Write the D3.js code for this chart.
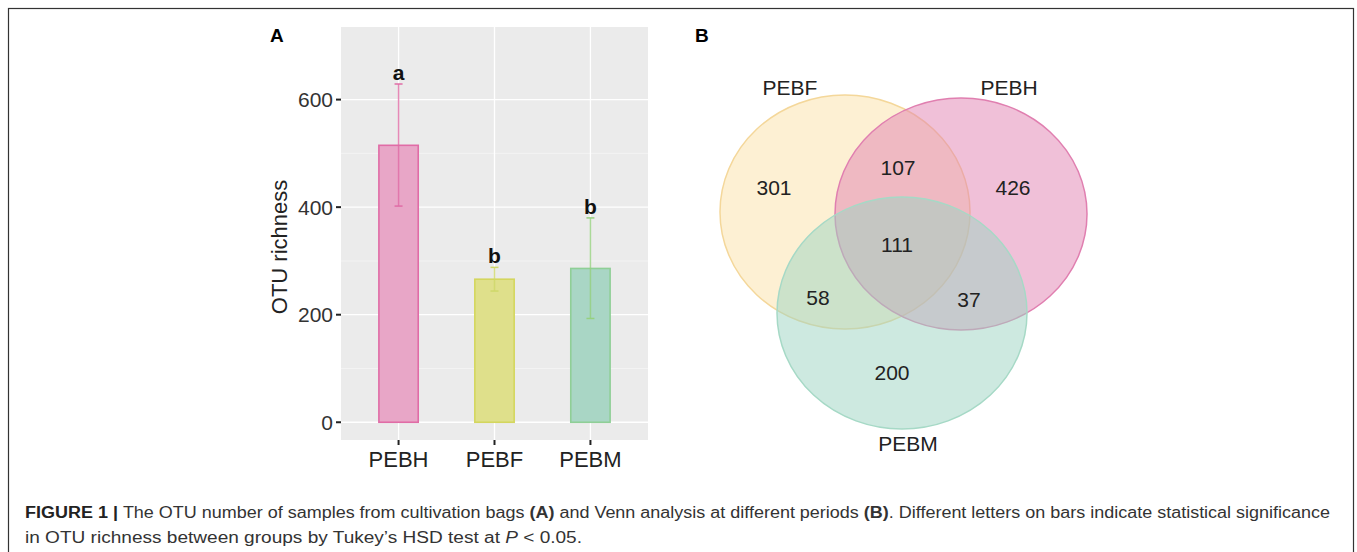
<!DOCTYPE html>
<html>
<head>
<meta charset="utf-8">
<script src="https://cdn.jsdelivr.net/npm/d3@7"></script>
<style>
  body { margin: 0; background: #fff; }
  svg text { font-family: "Liberation Sans", Arial, sans-serif; }
</style>
</head>
<body>
<svg id="fig"></svg>
<script>
// ---- data ----
const groups = ["PEBH", "PEBF", "PEBM"];
const richness = [515, 266, 286];
const errHigh = [629, 288, 380];
const errLow = [402, 244, 193];
const sigLetters = ["a", "b", "b"];
const yTicks = [0, 200, 400, 600];

const vennSets = ["PEBF", "PEBH", "PEBM"];
const vennRegions = ["F", "H", "M", "FH", "FM", "HM", "FHM"];
const vennCounts = [301, 426, 200, 107, 58, 37, 111];

// ---- styles ----
const barFill = {PEBH: "#e8a6c7", PEBF: "#dfe08b", PEBM: "#a9d6c5"};
const barStroke = {PEBH: "#e06ca6", PEBF: "#d4d65e", PEBM: "#8fcf96"};
const errColor = {PEBH: "#e06ca6", PEBF: "#cfd86a", PEBM: "#96d07f"};
const vennFill = {PEBF: "#fbe1a7", PEBH: "#e181b1", PEBM: "#9bd3c1"};
const vennStroke = {PEBF: "#f4d79a", PEBH: "#e07fb0", PEBM: "#a6d9c6"};

const W = 1357, H = 552;
const svg = d3.select("#fig").attr("width", W).attr("height", H);

// frame
svg.append("rect")
    .attr("x", 8.5).attr("y", 8.5)
    .attr("width", 1345).attr("height", 600)
    .attr("fill", "none").attr("stroke", "#333").attr("stroke-width", 1.2);

// ================= Panel A =================
const panel = {left: 341, right: 648, top: 27, bottom: 440};

const x = d3.scalePoint()
    .domain(groups)
    .range([panel.left, panel.right])
    .padding(0.6);

const y = d3.scaleLinear()
    .domain([-33, 735])
    .range([panel.bottom, panel.top]);

const barW = x.step() * 0.41;

const gA = svg.append("g");

gA.append("rect")
    .attr("x", panel.left).attr("y", panel.top)
    .attr("width", panel.right - panel.left)
    .attr("height", panel.bottom - panel.top)
    .attr("fill", "#ebebeb");

// minor gridlines
[100, 300, 500].forEach(v => {
    gA.append("line")
        .attr("x1", panel.left).attr("x2", panel.right)
        .attr("y1", y(v)).attr("y2", y(v))
        .attr("stroke", "#f5f5f5").attr("stroke-width", 0.8);
});
// major gridlines
yTicks.forEach(v => {
    gA.append("line")
        .attr("x1", panel.left).attr("x2", panel.right)
        .attr("y1", y(v)).attr("y2", y(v))
        .attr("stroke", "#fff").attr("stroke-width", 1.3);
});
groups.forEach(g => {
    gA.append("line")
        .attr("x1", x(g)).attr("x2", x(g))
        .attr("y1", panel.top).attr("y2", panel.bottom)
        .attr("stroke", "#fff").attr("stroke-width", 1.3);
});

// bars
gA.selectAll(".bar")
    .data(groups)
    .join("rect")
    .attr("class", "bar")
    .attr("x", d => x(d) - barW / 2)
    .attr("width", barW)
    .attr("y", (d, i) => y(richness[i]))
    .attr("height", (d, i) => y(0) - y(richness[i]))
    .attr("fill", d => barFill[d])
    .attr("stroke", d => barStroke[d])
    .attr("stroke-width", 1.6);

// error bars + significance letters
groups.forEach((g, i) => {
    const c = errColor[g];
    gA.append("line")
        .attr("x1", x(g)).attr("x2", x(g))
        .attr("y1", y(errHigh[i])).attr("y2", y(errLow[i]))
        .attr("stroke", c).attr("stroke-width", 1.5).attr("opacity", 0.8);
    [errHigh[i], errLow[i]].forEach(v => {
        gA.append("line")
            .attr("x1", x(g) - 4).attr("x2", x(g) + 4)
            .attr("y1", y(v)).attr("y2", y(v))
            .attr("stroke", c).attr("stroke-width", 1.5);
    });
    gA.append("text")
        .attr("x", x(g)).attr("y", y(errHigh[i]) - 4)
        .attr("text-anchor", "middle")
        .attr("font-size", 21).attr("font-weight", "bold")
        .attr("fill", "#111")
        .text(sigLetters[i]);
});

// y axis
const yAxis = gA.append("g");
yTicks.forEach(v => {
    yAxis.append("line")
        .attr("x1", panel.left - 5).attr("x2", panel.left)
        .attr("y1", y(v)).attr("y2", y(v))
        .attr("stroke", "#222").attr("stroke-width", 2);
    yAxis.append("text")
        .attr("x", panel.left - 8).attr("y", y(v))
        .attr("dy", "0.36em")
        .attr("text-anchor", "end")
        .attr("font-size", 21).attr("fill", "#333")
        .text(v);
});

// x axis
groups.forEach(g => {
    gA.append("line")
        .attr("x1", x(g)).attr("x2", x(g))
        .attr("y1", panel.bottom).attr("y2", panel.bottom + 5)
        .attr("stroke", "#222").attr("stroke-width", 2);
    gA.append("text")
        .attr("x", x(g)).attr("y", panel.bottom + 27)
        .attr("text-anchor", "middle")
        .attr("font-size", 22).attr("fill", "#222")
        .text(g);
});

gA.append("text")
    .attr("transform", "translate(287,247) rotate(-90)")
    .attr("text-anchor", "middle")
    .attr("font-size", 22).attr("fill", "#222")
    .text("OTU richness");

gA.append("text")
    .attr("x", 270).attr("y", 42)
    .attr("font-size", 19).attr("font-weight", "bold")
    .text("A");

// ================= Panel B (Venn) =================
const gB = svg.append("g");

gB.append("text")
    .attr("x", 695).attr("y", 42)
    .attr("font-size", 19).attr("font-weight", "bold")
    .text("B");

const ellipses = {
    PEBF: {cx: 845, cy: 212, rx: 125, ry: 117},
    PEBH: {cx: 961, cy: 214, rx: 126, ry: 116},
    PEBM: {cx: 902, cy: 313, rx: 125, ry: 116}
};

gB.selectAll(".set")
    .data(vennSets)
    .join("ellipse")
    .attr("class", "set")
    .attr("cx", d => ellipses[d].cx)
    .attr("cy", d => ellipses[d].cy)
    .attr("rx", d => ellipses[d].rx)
    .attr("ry", d => ellipses[d].ry)
    .attr("fill", d => vennFill[d])
    .attr("fill-opacity", 0.5)
    .attr("stroke", d => vennStroke[d])
    .attr("stroke-width", 1.5);

const setLabelPos = {
    PEBF: [790, 95],
    PEBH: [1009, 95],
    PEBM: [908, 451]
};
vennSets.forEach(s => {
    gB.append("text")
        .attr("x", setLabelPos[s][0]).attr("y", setLabelPos[s][1])
        .attr("text-anchor", "middle")
        .attr("font-size", 21).attr("fill", "#222")
        .text(s);
});

const regionPos = {
    F: [774, 187], H: [1013, 187], M: [892, 372],
    FH: [898, 167], FM: [818, 297], HM: [969, 299], FHM: [897, 244]
};
vennRegions.forEach((r, i) => {
    gB.append("text")
        .attr("x", regionPos[r][0]).attr("y", regionPos[r][1])
        .attr("dy", "0.36em")
        .attr("text-anchor", "middle")
        .attr("font-size", 21).attr("fill", "#222")
        .text(vennCounts[i]);
});

// ================= Caption =================
const cap1 = svg.append("text")
    .attr("x", 25).attr("y", 518)
    .attr("font-size", 16).attr("fill", "#333")
    .attr("textLength", 1305).attr("lengthAdjust", "spacingAndGlyphs");
cap1.append("tspan").attr("font-weight", "bold").attr("fill", "#222").text("FIGURE 1 | ");
cap1.append("tspan").text("The OTU number of samples from cultivation bags ");
cap1.append("tspan").attr("font-weight", "bold").text("(A)");
cap1.append("tspan").text(" and Venn analysis at different periods ");
cap1.append("tspan").attr("font-weight", "bold").text("(B)");
cap1.append("tspan").text(". Different letters on bars indicate statistical significance");

const cap2 = svg.append("text")
    .attr("x", 25).attr("y", 543)
    .attr("font-size", 16).attr("fill", "#333")
    .attr("textLength", 557).attr("lengthAdjust", "spacingAndGlyphs");
cap2.append("tspan").text("in OTU richness between groups by Tukey\u2019s HSD test at ");
cap2.append("tspan").attr("font-style", "italic").text("P");
cap2.append("tspan").text(" < 0.05.");
</script>
</body>
</html>
